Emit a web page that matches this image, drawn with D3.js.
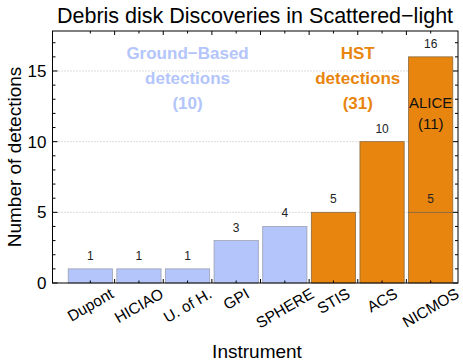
<!DOCTYPE html>
<meta charset="utf-8">
<style>
body { margin: 0; background: #fff; }
text { font-family: "Liberation Sans", Arial, sans-serif; }
</style>
<body>
<script src="https://cdn.jsdelivr.net/npm/d3@7"></script>
<script>

// data
var instruments = ["Dupont", "HICIAO", "U. of H.", "GPI", "SPHERE", "STIS", "ACS", "NICMOS"];
var groups = ["ground", "ground", "ground", "ground", "ground", "hst", "hst", "hst"];
var baseCounts = [1, 1, 1, 3, 4, 5, 10, 5];     // first stack segment
var aliceCounts = [0, 0, 0, 0, 0, 0, 0, 11];    // ALICE reprocessing on top of NICMOS
var yTicks = [0, 5, 10, 15];

var W = 463, H = 364;
var plotL = 52.5, plotR = 458, plotT = 31, plotB = 283;

var colors = { ground: "#b3c5fb", hst: "#e8850f" };
var strokes = { ground: "#9aa0b0", hst: "#8a6a40" };

var svg = d3.select("body").append("svg")
    .attr("width", W).attr("height", H);

var x = d3.scaleBand()
    .domain(instruments)
    .range([66, 455])
    .paddingInner(0.07)
    .paddingOuter(0.035);

var y = d3.scaleLinear()
    .domain([0, 17.83])
    .range([plotB, plotT]);

// dotted grid
svg.append("g").selectAll("line")
    .data(yTicks.filter(function (d) { return d > 0; }))
    .enter().append("line")
    .attr("x1", plotL).attr("x2", plotR)
    .attr("y1", function (d) { return y(d); })
    .attr("y2", function (d) { return y(d); })
    .attr("stroke", "#b8b8b8")
    .attr("stroke-width", 1)
    .attr("stroke-dasharray", "1,2");

// bars
var data = instruments.map(function (name, i) {
    return { name: name, group: groups[i], a: baseCounts[i], b: aliceCounts[i] };
});

svg.append("g").selectAll("rect")
    .data(data)
    .enter().append("rect")
    .attr("x", function (d) { return x(d.name) + 0.5; })
    .attr("width", x.bandwidth() - 1)
    .attr("y", function (d) { return y(d.a); })
    .attr("height", function (d) { return y(0) - y(d.a); })
    .attr("fill", function (d) { return colors[d.group]; })
    .attr("stroke", function (d) { return strokes[d.group]; })
    .attr("stroke-width", 0.8);

svg.append("g").selectAll("rect")
    .data(data.filter(function (d) { return d.b > 0; }))
    .enter().append("rect")
    .attr("x", function (d) { return x(d.name) + 0.5; })
    .attr("width", x.bandwidth() - 1)
    .attr("y", function (d) { return y(d.a + d.b); })
    .attr("height", function (d) { return y(d.a) - y(d.a + d.b); })
    .attr("fill", function (d) { return colors[d.group]; })
    .attr("stroke", function (d) { return strokes[d.group]; })
    .attr("stroke-width", 0.8);

// value labels
svg.append("g").selectAll("text")
    .data(data)
    .enter().append("text")
    .attr("x", function (d) { return x(d.name) + x.bandwidth() / 2; })
    .attr("y", function (d) { return y(d.a) - 9; })
    .attr("text-anchor", "middle")
    .attr("font-size", 12)
    .attr("fill", "#222")
    .text(function (d) { return d.a; });

svg.append("g").selectAll("text")
    .data(data.filter(function (d) { return d.b > 0; }))
    .enter().append("text")
    .attr("x", function (d) { return x(d.name) + x.bandwidth() / 2; })
    .attr("y", function (d) { return y(d.a + d.b) - 9; })
    .attr("text-anchor", "middle")
    .attr("font-size", 12)
    .attr("fill", "#222")
    .text(function (d) { return d.a + d.b; });

// frame
svg.append("rect")
    .attr("x", plotL).attr("y", plotT)
    .attr("width", plotR - plotL).attr("height", plotB - plotT)
    .attr("fill", "none").attr("stroke", "#000").attr("stroke-width", 1);

// y ticks, left and right, inward
var minor = d3.range(0, 18);
var tk = svg.append("g").attr("stroke", "#000").attr("stroke-width", 1);
minor.forEach(function (v) {
    var len = v % 5 === 0 ? 5 : 3;
    tk.append("line").attr("x1", plotL).attr("x2", plotL + len)
        .attr("y1", y(v)).attr("y2", y(v));
    tk.append("line").attr("x1", plotR).attr("x2", plotR - len)
        .attr("y1", y(v)).attr("y2", y(v));
});

// x ticks: band boundaries and centres, bottom and top
var bounds = instruments.slice(1).map(function (n) { return x(n) - x.step() * x.paddingInner() / 2; });
bounds.forEach(function (b) {
    tk.append("line").attr("x1", b).attr("x2", b).attr("y1", plotB).attr("y2", plotB - 4);
    tk.append("line").attr("x1", b).attr("x2", b).attr("y1", plotT).attr("y2", plotT + 4);
});
instruments.forEach(function (n) {
    var c = x(n) + x.bandwidth() / 2;
    tk.append("line").attr("x1", c).attr("x2", c).attr("y1", plotB).attr("y2", plotB - 2.5);
    tk.append("line").attr("x1", c).attr("x2", c).attr("y1", plotT).attr("y2", plotT + 2.5);
});

// y tick labels
svg.append("g").selectAll("text")
    .data(yTicks)
    .enter().append("text")
    .attr("x", plotL - 6)
    .attr("y", function (d) { return y(d) + 6; })
    .attr("text-anchor", "end")
    .attr("font-size", 17)
    .text(function (d) { return d; });

// x tick labels, rotated about their centre
var ang = 30 * Math.PI / 180;
var xl = svg.append("g");
instruments.forEach(function (n) {
    var t = xl.append("text")
        .attr("font-size", 15.5)
        .attr("text-anchor", "middle")
        .attr("dy", "0.35em")
        .text(n);
    var w = t.node().getComputedTextLength();
    var hgt = 12;
    var bh = w * Math.sin(ang) + hgt * Math.cos(ang);
    var cx = x(n) + x.bandwidth() / 2;
    var cy = plotB + 4 + bh / 2;
    t.attr("transform", "translate(" + cx + "," + cy + ") rotate(-30)");
});

// annotations
function block(lines, cx, y0, color, size, weight) {
    lines.forEach(function (s, i) {
        svg.append("text")
            .attr("x", cx).attr("y", y0 + i * 25)
            .attr("text-anchor", "middle")
            .attr("font-size", size)
            .attr("font-weight", weight)
            .attr("fill", color)
            .text(s);
    });
}
var gCenter = (x("Dupont") + x("SPHERE") + x.bandwidth()) / 2;
var hCenter = (x("STIS") + x("ACS") + x.bandwidth()) / 2;
block(["Ground\u2212Based", "detections", "(10)"], gCenter, 59, colors.ground, 17, "bold");
block(["HST", "detections", "(31)"], hCenter, 59, colors.hst, 17, "bold");
var nc = x("NICMOS") + x.bandwidth() / 2;
svg.append("text").attr("x", nc).attr("y", 108).attr("text-anchor", "middle")
    .attr("font-size", 15).attr("fill", "#111").text("ALICE");
svg.append("text").attr("x", nc).attr("y", 129).attr("text-anchor", "middle")
    .attr("font-size", 15).attr("fill", "#111").text("(11)");

// titles
svg.append("text")
    .attr("x", 255).attr("y", 23)
    .attr("text-anchor", "middle")
    .attr("font-size", 21.5)
    .text("Debris disk Discoveries in Scattered\u2212light");

svg.append("text")
    .attr("transform", "translate(21," + ((plotT + plotB) / 2) + ") rotate(-90)")
    .attr("text-anchor", "middle")
    .attr("font-size", 19)
    .text("Number of detections");

svg.append("text")
    .attr("x", 257).attr("y", 358)
    .attr("text-anchor", "middle")
    .attr("font-size", 19)
    .text("Instrument");

</script>
</body>
